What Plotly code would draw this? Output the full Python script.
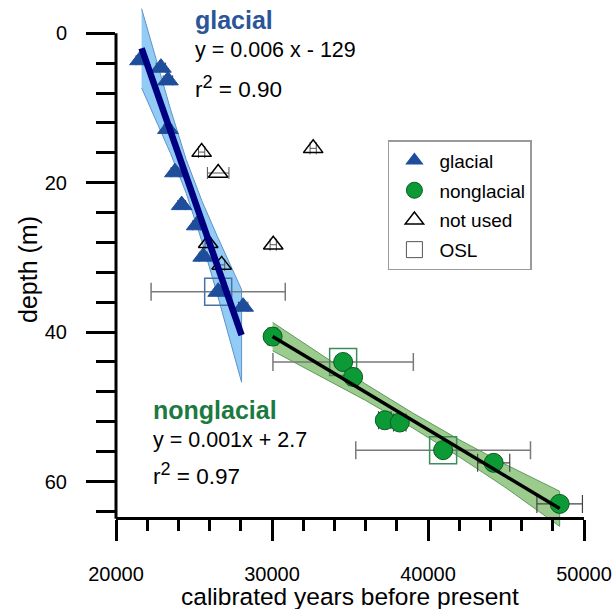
import plotly.graph_objects as go

FONT = "Liberation Sans, Arial, sans-serif"

# ---------------- data ----------------
glacial_age = [21540, 22880, 23330, 23330, 23780, 24210, 25170, 25590, 26550, 28150]
glacial_depth = [3.6, 4.6, 6.3, 12.8, 18.6, 23.0, 25.7, 29.9, 34.6, 36.6]
glacial_err = [250, 300, 300, 250, 250, 250, 250, 250, 0, 300]

nonglacial_age = [30040, 34560, 35200, 37230, 38190, 40970, 44210, 48440]
nonglacial_depth = [40.6, 44.0, 46.0, 51.8, 52.1, 55.8, 57.5, 63.0]
nonglacial_err = [300, 0, 300, 400, 400, 0, 1030, 1460]

notused_age = [25490, 26550, 25910, 26770, 30080, 32640]
notused_depth = [15.9, 18.7, 28.1, 31.0, 28.3, 15.4]
notused_err = [200, 690, 200, 200, 200, 200]

osl_glacial_age = [26550]
osl_glacial_depth = [34.6]
osl_glacial_err = [4300]

osl_nonglacial_age = [34560, 40970]
osl_nonglacial_depth = [44.0, 55.8]
osl_nonglacial_err = [4500, 5600]

# regression lines (end points)
glacial_fit_age = [21640, 28050]
glacial_fit_depth = [2.0, 40.4]
nonglacial_fit_age = [30040, 48440]
nonglacial_fit_depth = [40.6, 63.6]

# confidence bands
glacial_band_age = [21640, 22500, 23500, 24500, 25500, 26500, 27300, 28050]
glacial_band_upper = [-3.3, 3.0, 10.2, 16.9, 22.4, 27.2, 30.9, 34.3]
glacial_band_lower = [7.3, 11.3, 16.1, 21.4, 27.8, 35.0, 40.9, 46.7]

nonglacial_band_age = [30040, 33000, 36000, 39000, 42000, 45000, 48440]
nonglacial_band_upper = [38.7, 42.85, 46.95, 50.8, 54.4, 57.75, 61.3]
nonglacial_band_lower = [42.5, 45.75, 49.15, 52.8, 56.7, 60.85, 66.0]

x_major = [20000, 30000, 40000, 50000]
y_major = [0, 20, 40, 60]
y_minor = [4, 8, 12, 16, 24, 28, 32, 36, 44, 48, 52, 56, 64]

BLUE = "#1E4D9B"
GREEN = "#0B9A35"
ERR = "#7a7a7a"

fig = go.Figure()

# bands
fig.add_trace(go.Scatter(
    x=glacial_band_age + glacial_band_age[::-1],
    y=glacial_band_upper + glacial_band_lower[::-1],
    fill="toself", fillcolor="#92CBF6", mode="lines",
    line=dict(color="#5E93C8", width=1), showlegend=False, hoverinfo="skip"))
fig.add_trace(go.Scatter(
    x=nonglacial_band_age + nonglacial_band_age[::-1],
    y=nonglacial_band_upper + nonglacial_band_lower[::-1],
    fill="toself", fillcolor="#9CCB8E", mode="lines",
    line=dict(color="#5E9A5A", width=1), showlegend=False, hoverinfo="skip"))

# OSL squares with wide error bars
fig.add_trace(go.Scatter(
    x=osl_glacial_age, y=osl_glacial_depth, mode="markers",
    marker=dict(symbol="square-open", size=27, color="#4A70A8", line=dict(width=1.5)),
    error_x=dict(type="data", array=osl_glacial_err, color=ERR, thickness=1.5, width=9),
    showlegend=False))
fig.add_trace(go.Scatter(
    x=osl_nonglacial_age, y=osl_nonglacial_depth, mode="markers",
    marker=dict(symbol="square-open", size=27, color="#3E8C5C", line=dict(width=1.5)),
    error_x=dict(type="data", array=osl_nonglacial_err, color=ERR, thickness=1.5, width=9),
    showlegend=False))

# data markers
fig.add_trace(go.Scatter(
    x=glacial_age, y=glacial_depth, mode="markers",
    marker=dict(symbol="triangle-up", size=18, color=BLUE, line=dict(color=BLUE, width=1)),
    error_x=dict(type="data", array=glacial_err, color="#333333", thickness=1, width=5),
    showlegend=False))
fig.add_trace(go.Scatter(
    x=nonglacial_age, y=nonglacial_depth, mode="markers",
    marker=dict(symbol="circle", size=19, color=GREEN, line=dict(color="#0A5A22", width=1)),
    error_x=dict(type="data", array=nonglacial_err, color="#444444", thickness=1.2, width=9),
    showlegend=False))
fig.add_trace(go.Scatter(
    x=notused_age, y=notused_depth, mode="markers",
    marker=dict(symbol="triangle-up-open", size=17, color="black", line=dict(width=1.5)),
    error_x=dict(type="data", array=notused_err, color="#555555", thickness=1, width=6),
    showlegend=False))

# regression lines
fig.add_trace(go.Scatter(x=glacial_fit_age, y=glacial_fit_depth, mode="lines",
                         line=dict(color="#000080", width=6.5), showlegend=False))
fig.add_trace(go.Scatter(x=nonglacial_fit_age, y=nonglacial_fit_depth, mode="lines",
                         line=dict(color="black", width=3.5), showlegend=False))

# legend entries
fig.add_trace(go.Scatter(x=[None], y=[None], mode="markers", name="glacial", legendgroup="a",
                         marker=dict(symbol="triangle-up", size=16, color=BLUE)))
fig.add_trace(go.Scatter(x=[None], y=[None], mode="markers", name="nonglacial", legendgroup="b",
                         marker=dict(symbol="circle", size=16, color=GREEN,
                                     line=dict(color="#0A5A22", width=1))))
fig.add_trace(go.Scatter(x=[None], y=[None], mode="markers", name="not used", legendgroup="c",
                         marker=dict(symbol="triangle-up-open", size=16, color="black",
                                     line=dict(width=1.5))))
fig.add_trace(go.Scatter(x=[None], y=[None], mode="markers", name="OSL", legendgroup="d",
                         marker=dict(symbol="square-open", size=16, color="#555555",
                                     line=dict(width=1))))

# annotations
ann = []
def txt(x, y, text, size, color="black", bold=False, xref="x", yref="y", **kw):
    if bold:
        text = "<b>" + text + "</b>"
    d = dict(x=x, y=y, xref=xref, yref=yref, text=text, showarrow=False,
             xanchor="left", yanchor="middle",
             font=dict(family=FONT, size=size, color=color))
    d.update(kw)
    ann.append(d)

SUP2 = '<sup><span style="font-size:18px">2</span></sup>'
txt(24950, -1.8, "glacial", 25, color="#2A5599", bold=True)
txt(24950, 2.2, "y = 0.006 x - 129", 21.5)
txt(24950, 7.2, "r" + SUP2 + " = 0.90", 22.5)
txt(22250, 50.4, "nonglacial", 25, color="#1B7A40", bold=True)
txt(22250, 54.4, "y = 0.001x + 2.7", 21.5)
txt(22250, 59.0, "r" + SUP2 + " = 0.97", 22.5)

ann.append(dict(x=0.5, y=-0.131, xref="paper", yref="paper", showarrow=False,
                text="calibrated years before present", xanchor="center", yanchor="middle",
                font=dict(family=FONT, size=24.5, color="black")))
ann.append(dict(x=-0.188, y=0.4877, xref="paper", yref="paper", showarrow=False,
                text="depth (m)", textangle=-90, xanchor="center", yanchor="middle",
                font=dict(family=FONT, size=25, color="black")))

fig.update_layout(
    width=616, height=609,
    margin=dict(l=116, r=32, t=0, b=82),
    paper_bgcolor="white", plot_bgcolor="white",
    font=dict(family=FONT, size=20, color="black"),
    annotations=ann,
    shapes=[dict(type="line", xref="x domain", yref="y", x0=0, x1=0, y0=0, y1=65,
                 line=dict(color="black", width=3))],
    legend=dict(x=0.581, y=0.734, xanchor="left", yanchor="top",
                bgcolor="white", bordercolor="#9a9a9a", borderwidth=1.5,
                font=dict(family=FONT, size=19, color="black"),
                tracegroupgap=2, itemwidth=40),
    xaxis=dict(range=[20000, 50000], anchor="free", position=0.01708,
               showgrid=False, zeroline=False, showline=True, linecolor="black", linewidth=3,
               tickvals=x_major, tickformat="d", ticks="outside", ticklen=21, tickwidth=3,
               tickcolor="black", ticklabelstandoff=16,
               tickfont=dict(family=FONT, size=20, color="black"),
               minor=dict(dtick=2000, tick0=0, ticks="outside", ticklen=11, tickwidth=3,
                          tickcolor="black", showgrid=False)),
    yaxis=dict(range=[66.09, -4.46], showgrid=False, zeroline=False, showline=False,
               tickvals=y_major, ticks="outside", ticklen=29, tickwidth=3, tickcolor="black",
               ticklabelstandoff=15, tickfont=dict(family=FONT, size=20, color="black"),
               minor=dict(tickvals=y_minor, ticks="outside", ticklen=19, tickwidth=3,
                          tickcolor="black", showgrid=False)),
)

fig.write_html("out.html")
